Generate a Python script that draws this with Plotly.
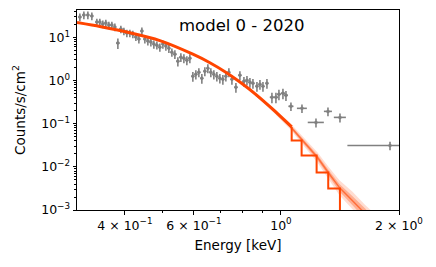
import plotly.graph_objects as go

# ---- observed data (gray crosses) ----
energy = [0.3071, 0.3144, 0.3219, 0.3295, 0.3393, 0.3453, 0.3514, 0.3577, 0.3641, 0.3706,
          0.3772, 0.3839, 0.3907, 0.3977, 0.4047, 0.4119, 0.4192, 0.4267, 0.4343, 0.4420,
          0.4498, 0.4578, 0.4660, 0.4742, 0.4827, 0.4912, 0.5000, 0.5089, 0.5179, 0.5271,
          0.5365, 0.5460, 0.5557, 0.5656, 0.5756, 0.5858, 0.5962, 0.6068, 0.6176, 0.6285,
          0.6397, 0.6511, 0.6626, 0.6744, 0.6864, 0.6986, 0.7111, 0.7237, 0.7366, 0.7499,
          0.7677, 0.7859, 0.8047, 0.8191, 0.8335, 0.8484, 0.8686, 0.8840, 0.8998, 0.9211,
          0.9485, 0.9710, 0.9883, 1.0118, 1.0299, 1.0605, 1.1314, 1.2284, 1.3180, 1.4142,
          1.8972]
counts = [29.7, 33.0, 33.0, 31.3, 22.7, 22.7, 20.4, 21.5, 19.3, 19.3,
          17.4, 7.37, 15.6, 14.0, 12.6, 12.6, 11.9, 10.2, 9.13, 14.0,
          9.13, 8.20, 7.78, 6.99, 6.62, 5.95, 6.99, 6.28, 5.64, 4.55,
          4.09, 2.81, 3.48, 3.30, 2.97, 3.30, 1.26, 1.40, 1.56, 1.13,
          1.65, 1.93, 1.56, 1.40, 1.26, 1.13, 1.07, 1.26, 1.56, 1.07,
          0.699, 1.33, 0.963, 1.02, 0.913, 0.866, 0.737, 0.820, 0.737, 0.866,
          0.409, 0.409, 0.480, 0.507, 0.455, 0.253, 0.227, 0.107, 0.193, 0.140,
          0.0313]
counts_err = [5.9, 6.6, 6.6, 6.3, 4.5, 4.5, 4.1, 4.3, 3.9, 3.9,
              3.5, 2.0, 3.1, 2.8, 2.5, 2.5, 2.4, 2.0, 1.9, 3.0,
              1.9, 1.7, 1.6, 1.5, 1.4, 1.3, 1.5, 1.4, 1.3, 1.0,
              0.95, 0.68, 0.8, 0.78, 0.7, 0.78, 0.32, 0.34, 0.37, 0.29,
              0.39, 0.45, 0.37, 0.34, 0.31, 0.28, 0.27, 0.31, 0.37, 0.27,
              0.18, 0.32, 0.24, 0.25, 0.23, 0.22, 0.19, 0.21, 0.19, 0.22,
              0.11, 0.11, 0.13, 0.14, 0.12, 0.055, 0.05, 0.025, 0.045, 0.033,
              0.007]
energy_err_plus = [0.003] * 11 + [0.004] * 19 + [0.005] * 20 + [0.007] * 10 + \
                  [0.012] * 5 + [0.016, 0.033, 0.058, 0.031, 0.05, 0.55]
energy_err_minus = [0.003] * 11 + [0.004] * 19 + [0.005] * 20 + [0.007] * 10 + \
                   [0.012] * 5 + [0.016, 0.033, 0.058, 0.031, 0.05, 0.42]

# ---- folded model (smooth part) ----
model_E = [0.302, 0.3453, 0.4119, 0.4912, 0.5962, 0.6590, 0.7281, 0.7859, 0.8686, 0.9541, 1.065]
model_F = [22.1, 17.9, 12.8, 8.43, 4.09, 2.59, 1.50, 0.923, 0.455, 0.215, 0.0842]

# ---- folded model (binned steps) ----
step_E = [1.065, 1.129, 1.233, 1.320, 1.414, 1.414]
step_F = [0.0842, 0.0409, 0.0183, 0.00737, 0.00313, 0.0001]

# ---- model uncertainty band ----
band_E = [0.86, 0.95, 1.05, 1.14, 1.24, 1.32, 1.41, 1.52, 1.64, 1.80, 2.00]
band_med = [0.47, 0.22, 0.092, 0.039, 0.0164, 0.0074, 0.0033, 0.00166, 0.00082, 0.00030, 0.0001]
band_lo1 = [0.45, 0.205, 0.084, 0.035, 0.0143, 0.0063, 0.0027, 0.00130, 0.00062, 0.00021, 0.00006]
band_hi1 = [0.49, 0.236, 0.101, 0.044, 0.0188, 0.0087, 0.0040, 0.0021, 0.00108, 0.00043, 0.00016]
band_lo2 = [0.44, 0.195, 0.078, 0.031, 0.0125, 0.0053, 0.0022, 0.00105, 0.00052, 0.00014, 0.00004]
band_hi2 = [0.50, 0.248, 0.109, 0.049, 0.0215, 0.0102, 0.0049, 0.0027, 0.0013, 0.0006, 0.00025]

x_tickvals = [0.4, 0.6, 1.0, 2.0]
x_ticktext = ["4 × 10<sup>−1</sup>", "6 × 10<sup>−1</sup>", "10<sup>0</sup>", "2 × 10<sup>0</sup>"]
x_minor = [0.3, 0.5, 0.7, 0.8, 0.9]
y_tickvals = [1e-3, 1e-2, 1e-1, 1e0, 1e1]
y_ticktext = ["10<sup>−3</sup>", "10<sup>−2</sup>", "10<sup>−1</sup>", "10<sup>0</sup>", "10<sup>1</sup>"]
y_minor = [m * 10 ** d for d in range(-3, 2) for m in range(2, 10)]

ORANGE = "#ff4500"
GRAY = "#808080"
FONT = "DejaVu Sans"

fig = go.Figure()

# outer band
fig.add_trace(go.Scatter(x=band_E, y=band_lo2, mode="lines", line=dict(width=0),
                         showlegend=False, hoverinfo="skip"))
fig.add_trace(go.Scatter(x=band_E, y=band_hi2, mode="lines", line=dict(width=0),
                         fill="tonexty", fillcolor="rgba(255,69,0,0.18)",
                         showlegend=False, hoverinfo="skip"))
# inner band
fig.add_trace(go.Scatter(x=band_E, y=band_lo1, mode="lines", line=dict(width=0),
                         showlegend=False, hoverinfo="skip"))
fig.add_trace(go.Scatter(x=band_E, y=band_hi1, mode="lines", line=dict(width=0),
                         fill="tonexty", fillcolor="rgba(255,69,0,0.3)",
                         showlegend=False, hoverinfo="skip"))
fig.add_trace(go.Scatter(x=band_E, y=band_med, mode="lines",
                         line=dict(color="rgba(255,69,0,0.6)", width=1.5),
                         showlegend=False, hoverinfo="skip"))

# data
fig.add_trace(go.Scatter(
    x=energy, y=counts, mode="markers",
    marker=dict(color=GRAY, size=3.5),
    error_y=dict(type="data", array=counts_err, color=GRAY, thickness=1.6, width=0),
    error_x=dict(type="data", array=energy_err_plus, arrayminus=energy_err_minus,
                 color=GRAY, thickness=1.6, width=0),
    showlegend=False))

# model
fig.add_trace(go.Scatter(x=model_E, y=model_F, mode="lines",
                         line=dict(color=ORANGE, width=3, shape="spline", smoothing=0.6),
                         showlegend=False))
fig.add_trace(go.Scatter(x=step_E, y=step_F, mode="lines",
                         line=dict(color=ORANGE, width=2, shape="vh"),
                         showlegend=False))

fig.add_annotation(text="model 0 - 2020", xref="paper", yref="paper",
                   x=0.512, y=0.92, xanchor="center", yanchor="middle",
                   showarrow=False, font=dict(family=FONT, size=16.5, color="black"))

# page body has an 8px margin, so the figure is sized to fit the 436x267 window
fig.update_layout(
    width=428, height=259,
    margin=dict(l=69, r=37, t=2, b=57, autoexpand=False),
    paper_bgcolor="white", plot_bgcolor="white",
    font=dict(family=FONT, size=12.5, color="black"),
    xaxis=dict(
        type="log", range=[-0.52, 0.30103], automargin=False,
        tickvals=x_tickvals, ticktext=x_ticktext,
        ticks="outside", ticklen=3.5, tickwidth=1, tickcolor="black",
        minor=dict(tickvals=x_minor, ticks="outside", ticklen=2, tickwidth=0.8,
                   tickcolor="black", showgrid=False),
        showgrid=False, zeroline=False,
        showline=True, linecolor="black", linewidth=1, mirror=True,
        title=dict(text="Energy [keV]", font=dict(family=FONT, size=13.5), standoff=9),
    ),
    yaxis=dict(
        type="log", range=[-3, 1.635], automargin=False,
        tickvals=y_tickvals, ticktext=y_ticktext,
        ticks="outside", ticklen=3.5, tickwidth=1, tickcolor="black",
        minor=dict(tickvals=y_minor, ticks="outside", ticklen=2, tickwidth=0.8,
                   tickcolor="black", showgrid=False),
        showgrid=False, zeroline=False,
        showline=True, linecolor="black", linewidth=1, mirror=True,
        title=dict(text="Counts/s/cm<sup>2</sup>", font=dict(family=FONT, size=13.5), standoff=12),
    ),
)

fig.write_html("out.html")
